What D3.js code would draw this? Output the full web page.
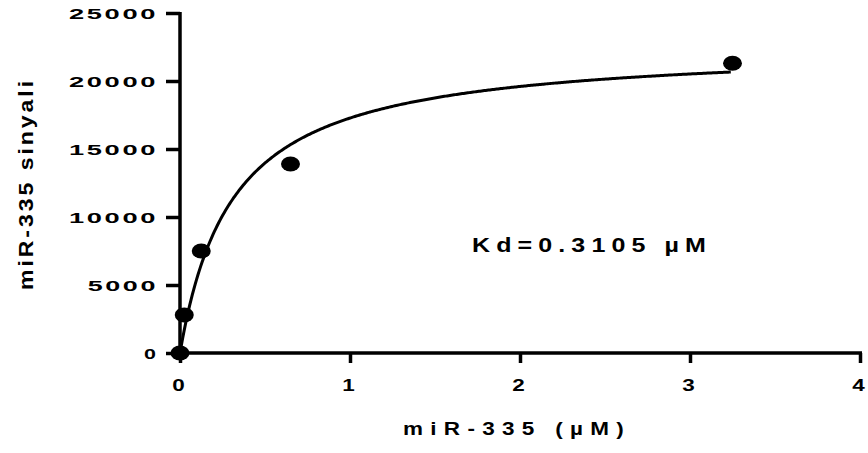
<!DOCTYPE html>
<html>
<head>
<meta charset="utf-8">
<script src="https://cdn.jsdelivr.net/npm/d3@7"></script>
<style>
  body { margin: 0; background: #fff; }
  text { font-family: "Liberation Sans", Arial, sans-serif; font-weight: bold; fill: #000; }
</style>
</head>
<body>
<div id="chart"></div>
<script>
const concentration = [0, 0.025, 0.125, 0.65, 3.25];
const signal = [0, 2800, 7500, 13900, 21300];
const xTicks = [0, 1, 2, 3, 4];
const yTicks = [0, 5000, 10000, 15000, 20000, 25000];
const kd = 0.3105;
const bmax = 22640;
const fitEnd = 3.24;

const width = 868, height = 453;

const svg = d3.select("#chart").append("svg")
  .attr("width", width)
  .attr("height", height);

const x = d3.scaleLinear().domain([0, 4]).range([180, 860]);
const y = d3.scaleLinear().domain([0, 25000]).range([353, 13]);

// y axis
const yAxis = svg.append("g")
  .attr("transform", `translate(${x(0)},0)`)
  .call(d3.axisLeft(y).tickValues(yTicks).tickSize(14).tickPadding(8).tickFormat(d3.format("d")));
yAxis.select(".domain").attr("stroke-width", 3.5).attr("d", `M0,${y(0) + 1.5}V${y(25000) - 1}`);
yAxis.selectAll(".tick line").attr("stroke-width", 3.5);
yAxis.selectAll(".tick text")
  .attr("font-size", 15.5)
  .attr("dy", "0.36em")
  .attr("letter-spacing", 1.5)
  .attr("lengthAdjust", "spacingAndGlyphs")
  .attr("textLength", d => 18.75 * String(d).length - 4.75);

// x axis
const xAxis = svg.append("g")
  .attr("transform", `translate(0,${y(0)})`)
  .call(d3.axisBottom(x).tickValues(xTicks).tickSize(10).tickPadding(17).tickFormat(d3.format("d")));
xAxis.select(".domain").attr("stroke-width", 3.5).attr("d", `M${x(0) - 1.5},0H${x(4) + 2}`);
xAxis.selectAll(".tick line").attr("stroke-width", 3.5);
xAxis.selectAll(".tick text")
  .attr("font-size", 16)
  .attr("dx", -2)
  .attr("lengthAdjust", "spacingAndGlyphs")
  .attr("textLength", 12.5);

// fitted one-site binding curve
const fit = d3.range(0, 401).map(i => fitEnd * i / 400).map(c => [c, bmax * c / (kd + c)]);
svg.append("path")
  .datum(fit)
  .attr("fill", "none")
  .attr("stroke", "#000")
  .attr("stroke-width", 3)
  .attr("d", d3.line().x(d => x(d[0])).y(d => y(d[1])));

// data points
svg.append("g").selectAll("ellipse")
  .data(concentration.map((c, i) => [c, signal[i]]))
  .join("ellipse")
  .attr("cx", d => x(d[0]))
  .attr("cy", d => y(d[1]))
  .attr("rx", 9.5)
  .attr("ry", 7.5)
  .attr("fill", "#000");

// labels (spread out like the original export)
svg.append("text")
  .attr("transform", `translate(33,184) rotate(-90)`)
  .attr("text-anchor", "middle")
  .attr("font-size", 21)
  .attr("letter-spacing", 2.7)
  .attr("lengthAdjust", "spacingAndGlyphs")
  .attr("textLength", 212)
  .text("miR-335 sinyali");

svg.append("text")
  .attr("x", 403)
  .attr("y", 435)
  .attr("font-size", 18.5)
  .attr("letter-spacing", 6)
  .attr("lengthAdjust", "spacingAndGlyphs")
  .attr("textLength", 228)
  .text("miR-335 (µM)");

svg.append("text")
  .attr("x", 472)
  .attr("y", 252)
  .attr("font-size", 20.5)
  .attr("letter-spacing", 5)
  .attr("lengthAdjust", "spacingAndGlyphs")
  .attr("textLength", 240)
  .text("Kd=0.3105 µM");
</script>
</body>
</html>
